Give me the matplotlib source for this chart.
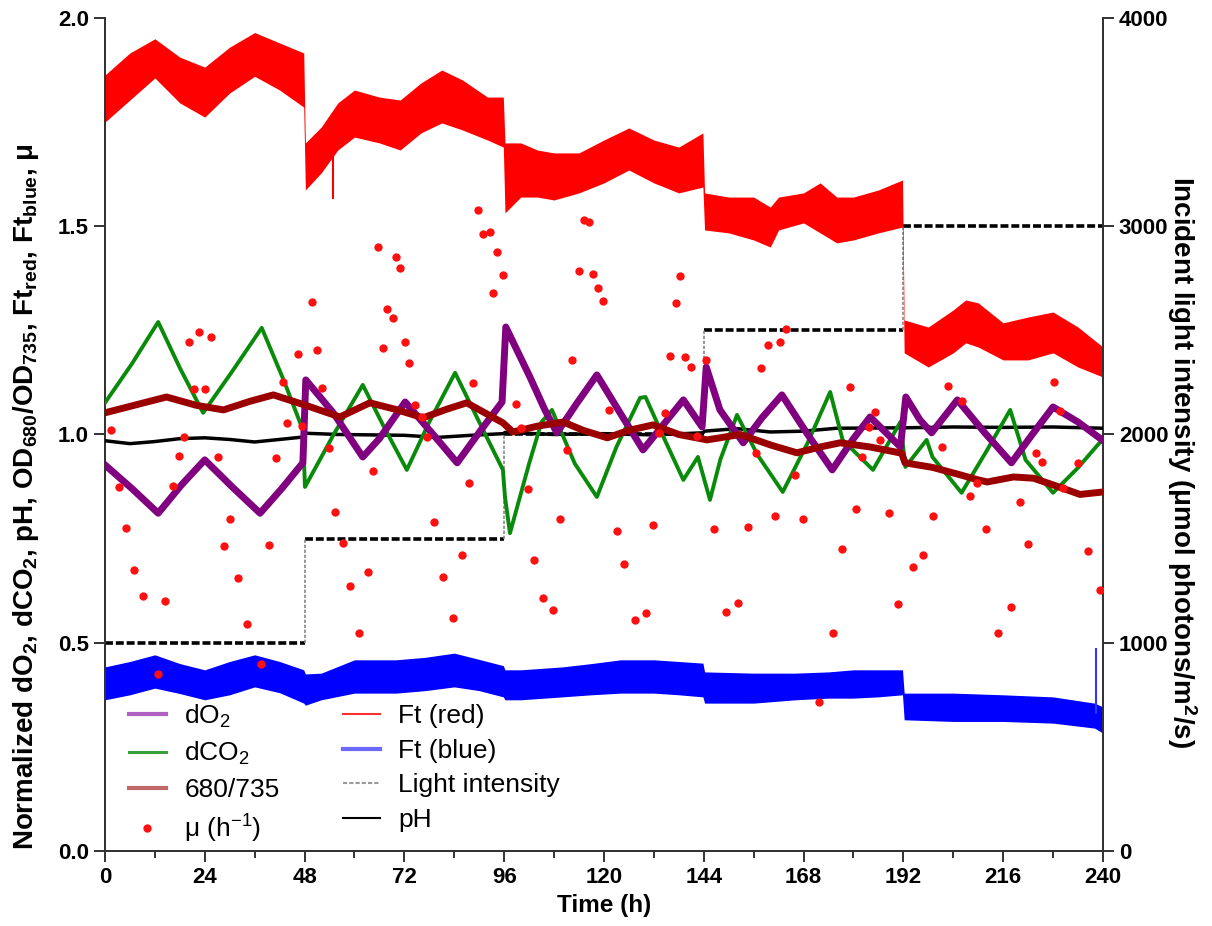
import matplotlib
matplotlib.use("Agg")
import matplotlib.pyplot as plt
from matplotlib.lines import Line2D
from matplotlib.ticker import MultipleLocator

plt.rcParams["font.family"] = ["Liberation Sans", "DejaVu Sans"]
plt.rcParams["mathtext.fontset"] = "custom"
plt.rcParams["mathtext.rm"] = "Liberation Sans"
plt.rcParams["mathtext.bf"] = "Liberation Sans:bold"
plt.rcParams["mathtext.default"] = "rm"

# Ft red band (noise envelope)
ft_red_t = [0, 6, 12, 18, 24, 30, 36, 42, 47.8, 48.2, 52, 56, 60, 66, 71, 76, 81, 86, 92,
            95.8, 96.2, 100, 104, 108, 114, 120, 126, 132, 138, 143.8, 144.2, 150, 156, 160,
            162, 168, 172, 176, 180, 186, 191.8, 192.2, 198, 204, 207, 210, 216, 222, 228, 234, 240]
ft_red_hi = [1.863, 1.916, 1.950, 1.906, 1.882, 1.930, 1.965, 1.940, 1.916, 1.700, 1.738, 1.796,
             1.827, 1.810, 1.803, 1.844, 1.875, 1.851, 1.810, 1.810, 1.700, 1.700, 1.683, 1.676,
             1.676, 1.707, 1.736, 1.707, 1.690, 1.724, 1.580, 1.570, 1.570, 1.546, 1.570, 1.580,
             1.604, 1.570, 1.570, 1.587, 1.611, 1.275, 1.258, 1.299, 1.323, 1.316, 1.268, 1.282,
             1.294, 1.258, 1.210]
ft_red_lo = [1.750, 1.803, 1.856, 1.796, 1.762, 1.820, 1.860, 1.827, 1.786, 1.587, 1.628, 1.683,
             1.714, 1.700, 1.683, 1.724, 1.748, 1.731, 1.707, 1.690, 1.532, 1.570, 1.570, 1.563,
             1.580, 1.604, 1.635, 1.604, 1.580, 1.594, 1.491, 1.484, 1.467, 1.450, 1.491, 1.508,
             1.484, 1.460, 1.467, 1.484, 1.498, 1.196, 1.162, 1.196, 1.220, 1.210, 1.179, 1.179,
             1.196, 1.162, 1.138]

# Ft blue band
ft_blue_t = [0, 6, 12, 18, 24, 30, 36, 42, 47.8, 48.2, 52, 60, 70, 77, 84, 90, 95.8, 96.2, 100,
             110, 117, 124, 132, 138, 143.8, 144.2, 156, 166, 174, 180, 186, 191.8, 192.2, 204,
             216, 228, 238, 240]
ft_blue_hi = [0.442, 0.455, 0.471, 0.450, 0.435, 0.455, 0.471, 0.455, 0.435, 0.425, 0.427, 0.459,
              0.459, 0.465, 0.475, 0.460, 0.445, 0.435, 0.435, 0.442, 0.450, 0.459, 0.459, 0.455,
              0.451, 0.430, 0.427, 0.427, 0.430, 0.435, 0.435, 0.435, 0.379, 0.379, 0.375, 0.370,
              0.355, 0.346]
ft_blue_lo = [0.363, 0.375, 0.391, 0.378, 0.363, 0.375, 0.394, 0.380, 0.355, 0.350, 0.363, 0.379,
              0.379, 0.385, 0.394, 0.385, 0.370, 0.363, 0.363, 0.370, 0.375, 0.379, 0.379, 0.375,
              0.370, 0.355, 0.355, 0.363, 0.367, 0.367, 0.370, 0.375, 0.315, 0.311, 0.311, 0.307,
              0.295, 0.283]

# single spikes (time, low, high)
spike_t = [54.9, 238.4]
spike_lo = [1.565, 0.33]
spike_hi = [1.690, 0.487]
spike_col = ["red", "#3333ff"]

do2_t = [0, 6.5, 12.8, 18.5, 24, 30.5, 37.3, 42.5, 47.6, 48.3, 54.9, 62, 66, 72.2, 78.5, 84.7,
         90, 95.5, 96.4, 102.2, 105.8, 108.7, 113.5, 118.3, 124, 129.4, 134, 139.1, 143.6, 144.6,
         147.9, 153.5, 158, 162.8, 169, 174.9, 180, 184, 191.3, 192.6, 196, 198.8, 205, 211.5,
         218, 223, 228, 234, 239.8]
do2_y = [0.927, 0.870, 0.811, 0.880, 0.939, 0.875, 0.811, 0.870, 0.932, 1.131, 1.052, 0.946,
         0.990, 1.078, 1.005, 0.932, 1.005, 1.078, 1.258, 1.138, 1.059, 1.004, 1.075, 1.143,
         1.050, 0.963, 1.020, 1.083, 1.018, 1.162, 1.059, 0.980, 1.040, 1.095, 1.000, 0.915,
         0.990, 1.042, 0.970, 1.090, 1.035, 1.004, 1.083, 1.005, 0.932, 1.000, 1.066, 1.030,
         0.987]

dco2_t = [0, 6.5, 12.8, 18, 23.6, 30.5, 37.7, 43, 47.6, 48.1, 55, 62, 67, 72.6, 78, 84.2, 90,
          95.7, 96.2, 97.4, 102, 105, 107.5, 110, 113, 118.3, 123, 128.7, 130, 134.5, 139.1,
          142.6, 145.5, 148, 152, 157, 163, 169, 174.4, 177.4, 184.7, 191.3, 192.5, 197.6, 199,
          206, 212, 217.7, 221.4, 228, 234, 239.8]
dco2_y = [1.076, 1.170, 1.270, 1.160, 1.052, 1.150, 1.256, 1.130, 1.011, 0.874, 1.000, 1.119,
          1.020, 0.915, 1.030, 1.148, 1.030, 0.915, 0.850, 0.763, 0.930, 1.030, 1.059, 1.000,
          0.930, 0.850, 0.970, 1.088, 1.090, 0.990, 0.891, 0.946, 0.843, 0.940, 1.047, 0.950,
          0.862, 0.980, 1.102, 0.987, 0.915, 1.030, 0.922, 0.987, 0.946, 0.860, 0.960, 1.059,
          0.939, 0.860, 0.920, 0.987]

od_t = [0, 7, 14.8, 22, 28.5, 35, 40.5, 48, 56.5, 63.7, 70, 76.5, 82, 87, 95.7, 98.1, 104, 110.2,
        115, 120.8, 126, 131.8, 138, 144.8, 152.8, 160, 166.4, 172, 176.8, 184, 191.6, 192.4, 199,
        205, 210, 212.2, 218.5, 223.3, 228, 234.5, 240]
od_y = [1.052, 1.070, 1.090, 1.070, 1.059, 1.080, 1.095, 1.071, 1.042, 1.076, 1.060, 1.040,
        1.060, 1.076, 1.028, 1.006, 1.020, 1.030, 1.010, 0.992, 1.010, 1.023, 1.000, 0.987,
        1.000, 0.975, 0.956, 0.970, 0.980, 0.970, 0.955, 0.932, 0.921, 0.905, 0.891, 0.886,
        0.898, 0.895, 0.879, 0.856, 0.862]

ph_t = [0, 6, 12, 18, 24, 30, 36, 47.8, 48.2, 56, 64, 72, 80, 88, 95.8, 96.2, 108, 120, 132,
        143.8, 144.2, 152, 160, 168, 176, 191.8, 192.2, 204, 216, 228, 240]
ph_y = [0.985, 0.978, 0.983, 0.990, 0.992, 0.988, 0.982, 0.994, 1.003, 1.000, 0.999, 0.998,
        0.993, 0.998, 1.002, 1.005, 1.000, 1.002, 0.999, 1.004, 1.008, 1.014, 1.006, 1.008,
        1.015, 1.016, 1.016, 1.018, 1.017, 1.018, 1.015]

mu_t = [1.4, 3.4, 5.0, 6.9, 9.2, 12.7, 14.4, 16.3, 17.8, 19.0, 20.2, 21.4, 22.6, 24.0, 25.5,
        27.2, 28.7, 30.1, 31.9, 34.2, 37.5, 39.4, 41.1, 42.7, 43.7, 46.4, 47.4, 49.7, 51.0, 52.1,
        53.8, 55.4, 57.2, 58.9, 61.1, 63.2, 64.5, 65.6, 66.9, 67.8, 69.2, 70.0, 71.0, 72.2, 73.1,
        74.6, 76.2, 77.4, 79.1, 81.3, 83.7, 85.8, 87.5, 88.5, 89.8, 91.0, 92.5, 93.3, 94.3, 95.7,
        98.8, 100.1, 101.7, 103.1, 105.3, 107.7, 109.5, 111.1, 112.4, 113.9, 115.2, 116.3, 117.3,
        118.5, 119.7, 121.2, 123.1, 124.8, 127.4, 130.0, 131.8, 133.2, 134.7, 135.9, 137.3, 138.3,
        139.5, 140.9, 142.5, 144.5, 146.4, 149.3, 152.2, 154.6, 156.6, 157.8, 159.4, 161.1, 162.3,
        163.9, 166.0, 167.9, 171.6, 175.0, 177.2, 179.1, 180.7, 182.0, 183.7, 185.1, 186.3, 188.6,
        190.7, 194.4, 196.7, 199.1, 201.2, 202.7, 206.0, 208.0, 209.6, 211.8, 214.8, 217.8, 220.0,
        222.0, 224.0, 225.4, 228.3, 229.7, 230.5, 233.9, 236.3, 239.2]
mu_y = [1.011, 0.874, 0.776, 0.675, 0.612, 0.425, 0.600, 0.876, 0.948, 0.994, 1.222, 1.109,
        1.246, 1.109, 1.234, 0.946, 0.732, 0.797, 0.655, 0.545, 0.449, 0.735, 0.944, 1.127,
        1.028, 1.193, 1.020, 1.318, 1.203, 1.112, 0.968, 0.814, 0.739, 0.636, 0.523, 0.670,
        0.912, 1.450, 1.207, 1.301, 1.280, 1.426, 1.400, 1.222, 1.172, 1.071, 1.042, 0.994,
        0.790, 0.658, 0.559, 0.711, 0.884, 1.124, 1.539, 1.481, 1.486, 1.340, 1.438, 1.383,
        1.073, 1.016, 0.869, 0.699, 0.607, 0.579, 0.797, 0.962, 1.179, 1.393, 1.515, 1.510,
        1.385, 1.352, 1.320, 1.059, 0.768, 0.689, 0.555, 0.571, 0.783, 1.004, 1.052, 1.188,
        1.316, 1.381, 1.186, 1.162, 0.996, 1.179, 0.773, 0.574, 0.595, 0.778, 0.955, 1.160,
        1.215, 0.804, 1.222, 1.253, 0.903, 0.797, 0.357, 0.523, 0.725, 1.114, 0.821, 0.946,
        1.018, 1.054, 0.987, 0.812, 0.593, 0.682, 0.711, 0.804, 0.970, 1.116, 1.080, 0.852,
        0.884, 0.773, 0.523, 0.586, 0.838, 0.737, 0.955, 0.934, 1.126, 1.056, 0.872, 0.932,
        0.720, 0.627]

light_start = [0, 48, 96, 144, 192]
light_end = [48, 96, 144, 192, 240]
light_level = [1000, 1500, 2000, 2500, 3000]

xticks = [0, 24, 48, 72, 96, 120, 144, 168, 192, 216, 240]

fig = plt.figure(figsize=(12.12, 9.26), dpi=100)
ax = fig.add_axes([0.0866, 0.081, 0.8234, 0.8996])
ax2 = ax.twinx()
ax.set_zorder(ax2.get_zorder() + 1)
ax.patch.set_visible(False)

# light intensity on the right axis
ax2.hlines(light_level, light_start, light_end, colors="black", linestyles=(0, (2.2, 0.8)), lw=2.6)
ax2.vlines(light_start[1:], light_level[:-1], light_level[1:], colors="#888888",
           linestyles=(0, (2, 1)), lw=1.2)

ax.fill_between(ft_red_t, ft_red_lo, ft_red_hi, color="#ff0000", lw=0, zorder=2)
ax.fill_between(ft_blue_t, ft_blue_lo, ft_blue_hi, color="#0000ff", lw=0, zorder=2)
for t, lo, hi, c in zip(spike_t, spike_lo, spike_hi, spike_col):
    ax.vlines(t, lo, hi, colors=c, lw=1.5, zorder=2)

ax.plot(ph_t, ph_y, color="black", lw=2.5, zorder=3)
ax.plot(dco2_t, dco2_y, color="#0a8a0a", lw=2.8, zorder=4)
ax.plot(do2_t, do2_y, color="#800080", lw=5, zorder=5)
ax.plot(od_t, od_y, color="#9b0000", lw=5, zorder=6)
ax.plot(mu_t, mu_y, ls="none", marker="o", ms=6, color="#ff1010", mec="none", zorder=7)

ax.set_xlim(0, 240)
ax.set_ylim(0, 2.0)
ax2.set_ylim(0, 4000)
ax.set_xticks(xticks)
ax.xaxis.set_minor_locator(MultipleLocator(12))
ax.set_yticks([0, 0.5, 1.0, 1.5, 2.0])
ax.set_yticklabels(["0.0", "0.5", "1.0", "1.5", "2.0"])
ax2.set_yticks([0, 1000, 2000, 3000, 4000])

for a in (ax, ax2):
    a.spines["top"].set_visible(False)
    for s in ("left", "right", "bottom"):
        a.spines[s].set_linewidth(1.4)
        a.spines[s].set_color("#333333")
    a.tick_params(which="major", direction="out", length=8, width=1.4, color="#333333",
                  labelsize=16)
    a.tick_params(which="minor", direction="out", length=5, width=1.4, color="#333333")
    for lab in a.get_xticklabels() + a.get_yticklabels():
        lab.set_fontweight("bold")

ax.set_xlabel("Time (h)", fontsize=17.5, fontweight="bold", labelpad=4)
ax.set_ylabel(r"Normalized dO$_\mathbf{2}$, dCO$_\mathbf{2}$, pH, OD$_\mathbf{680}$/OD$_\mathbf{735}$, "
              r"Ft$_\mathbf{red}$, Ft$_\mathbf{blue}$, μ", fontsize=20, fontweight="bold",
              labelpad=12, y=0.426)
ax2.set_ylabel(r"Incident light intensity (μmol photons/m$^\mathbf{2}$/s)", fontsize=20,
               fontweight="bold", rotation=270, labelpad=22, y=0.467)

handles = [
    Line2D([], [], color="#b060c0", lw=3),
    Line2D([], [], color="#3aa03a", lw=2.2),
    Line2D([], [], color="#c06868", lw=3),
    Line2D([], [], ls="none", marker="o", ms=6, color="#ff1010", mec="none"),
    Line2D([], [], color="#ff3030", lw=1.5),
    Line2D([], [], color="#6a6aff", lw=3),
    Line2D([], [], color="#999999", lw=1.5, ls=(0, (2, 1))),
    Line2D([], [], color="black", lw=1.5),
]
labels = ["dO$_2$", "dCO$_2$", "680/735", "μ (h$^{-1}$)", "Ft (red)", "Ft (blue)",
          "Light intensity", "pH"]
ax.legend(handles, labels, loc="upper left", bbox_to_anchor=(0.0, 0.207), ncol=2, frameon=False,
          fontsize=19, handlelength=1.4, handletextpad=0.7, labelspacing=0.4, columnspacing=2.4)

fig.savefig("out.png", dpi=100)
